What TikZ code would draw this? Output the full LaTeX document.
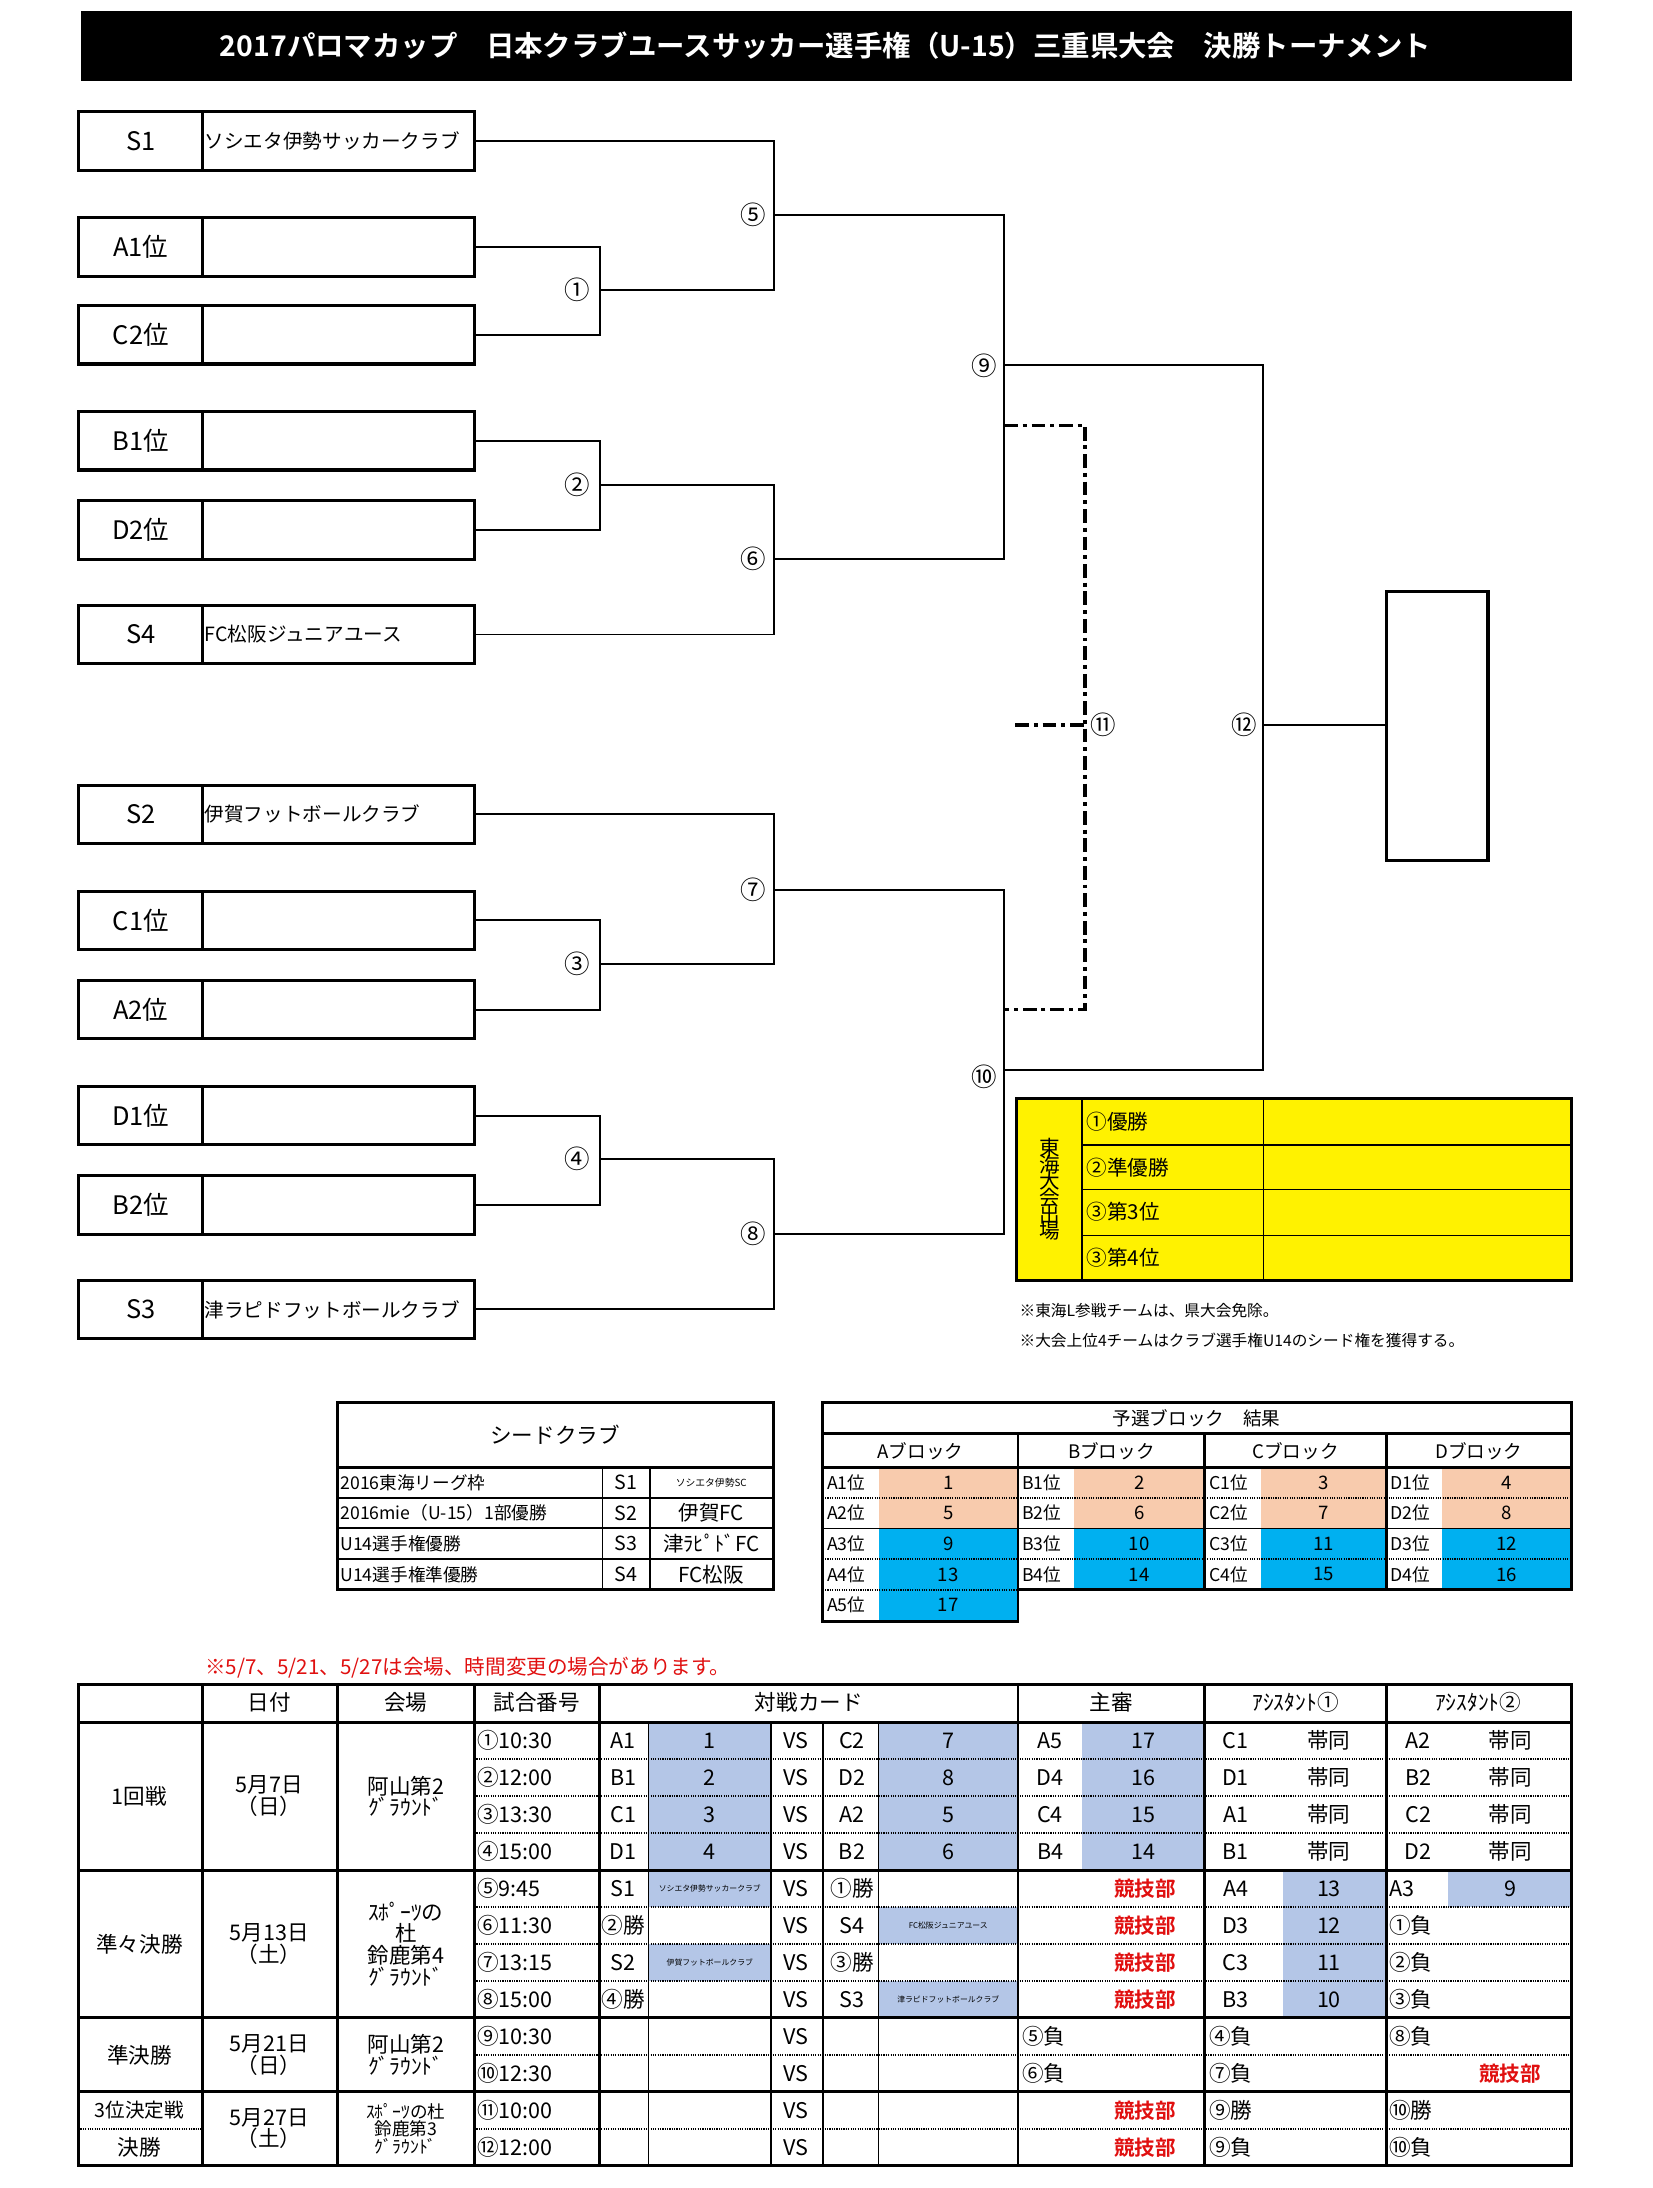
\documentclass[tikz,border=0pt]{standalone}
\usepackage{fontspec}
\setmainfont{Noto Sans CJK JP}
\newfontfamily\boldjp{Noto Sans CJK JP Bold}
\newcommand\FS[1]{\fontsize{#1}{#1}\selectfont}
\definecolor{lb}{HTML}{B4C6E7}
\definecolor{pe}{HTML}{F8CBAD}
\definecolor{cy}{HTML}{00B0F0}
\definecolor{rd}{HTML}{E01010}
\begin{document}
\begin{tikzpicture}[x=0.05cm,y=-0.05cm,
 box/.style={line width=3.2pt},
 br/.style={line width=2pt},
 dd/.style={line width=3.5pt,dash pattern=on 14pt off 5pt on 4pt off 5pt},
 num/.style={font=\FS{26}},
 lab/.style={font=\FS{26}},
 nm/.style={font=\FS{20},anchor=west,inner sep=1pt},
 tt/.style={font=\FS{22},inner sep=0pt},
 tw/.style={font=\FS{22},inner sep=0pt,anchor=west},
 sm/.style={font=\FS{8},inner sep=0pt},
 thk/.style={line width=3pt},
 thn/.style={line width=1.5pt},
 dot/.style={line width=2pt,dash pattern=on 1.2pt off 1.2pt}]
\useasboundingbox (0,0) rectangle (1185,1569);
% header
\fill (58,8) rectangle (1127,58);
\node[text=white,font=\boldjp\FS{29}] (title) at (592,33) {2017パロマカップ　日本クラブユースサッカー選手権（U-15）三重県大会　決勝トーナメント};
% teams
\foreach \n/\y/\l/\t in {s1/101/S1/ソシエタ伊勢サッカークラブ, a1/177/A1位/, c2/240/C2位/, b1/316/B1位/, d2/380/D2位/, s4/455/S4/FC松阪ジュニアユース, s2/584/S2/伊賀フットボールクラブ, c1/660/C1位/, a2/724/A2位/, d1/800/D1位/, b2/864/B2位/, s3/939/S3/津ラピドフットボールクラブ}{
 \draw[box] (56,\y-21) rectangle (340,\y+21);
 \draw[box] (145,\y-21) -- (145,\y+21);
 \node[lab] (\n l) at (101,\y) {\l};
 \node[nm] (\n t) at (146,\y) {\t};
 \coordinate (\n) at (340,\y);
}
\coordinate (j1) at (430,208); \coordinate (j2) at (430,348);
\coordinate (j3) at (430,691); \coordinate (j4) at (430,831);
\coordinate (j5) at (555,154); \coordinate (j6) at (555,401);
\coordinate (j7) at (555,638); \coordinate (j8) at (555,885);
\coordinate (j9) at (720,262); \coordinate (j10) at (720,767);
\coordinate (j12) at (906,520);
\draw[box] (994,424) rectangle (1067,617);
\node[minimum width=0,inner sep=0] (champ) at (994,520) {};
\draw[br] (a1) -| (j1) |- (c2);
\draw[br] (s1) -| (j5) |- (j1);
\draw[br] (b1) -| (j2) |- (d2);
\draw[br] (s4) -| (j6) |- (j2);
\draw[br] (j5) -| (j9) |- (j6);
\draw[br] (c1) -| (j3) |- (a2);
\draw[br] (s2) -| (j7) |- (j3);
\draw[br] (d1) -| (j4) |- (b2);
\draw[br] (s3) -| (j8) |- (j4);
\draw[br] (j7) -| (j10) |- (j8);
\draw[br] (j9) -| (j12) |- (j10);
\draw[br] (j12) -- (champ);
\coordinate (k1) at (720,305); \coordinate (k2) at (778,305);
\coordinate (k3) at (778,724); \coordinate (k4) at (720,724);
\coordinate (k5) at (728,520); \coordinate (k6) at (778,520);
\draw[dd] (k1) -- (k2) -- (k3) -- (k4);
\draw[dd] (k5) -- (k6);
\foreach \n/\x/\y/\t in {n1/414/208/①,n2/414/348/②,n3/414/691/③,n4/414/831/④,n5/540/154/⑤,n6/540/401/⑥,n7/540/638/⑦,n8/540/885/⑧,n9/706/262/⑨,n10/706/772/⑩,n11/791/520/⑪,n12/892/520/⑫}
 \node[num] (\n) at (\x,\y) {\t};
% yellow table
\fill[yellow] (729,788) rectangle (1127,918);
\foreach \y in {821,853,886} \draw[thn] (776,\y) -- (1127,\y);
\draw[thn] (776,788) -- (776,918); \draw[thn] (906,788) -- (906,918);
\draw[thk] (729,788) rectangle (1127,918);
\node[font=\FS{21},align=center,inner sep=0] (tokai) at (753,853) {東\\[-4pt]海\\[-4pt]大\\[-4pt]会\\[-4pt]出\\[-4pt]場};
\foreach \n/\y/\t in {y1/804/①優勝,y2/837/②準優勝,y3/869/③第3位,y4/902/③第4位}
 \node[tw,font=\FS{21}] (\n) at (779,\y) {\t};
\node[anchor=west,font=\FS{16},inner sep=0] (note1) at (731,940) {※東海L参戦チームは、県大会免除。};
\node[anchor=west,font=\FS{16},inner sep=0] (note2) at (731,961) {※大会上位4チームはクラブ選手権U14のシード権を獲得する。};
% seed table
\draw[thk] (242,1006) rectangle (555,1140);
\draw[thk] (242,1052) -- (555,1052);
\foreach \y in {1074,1096,1118} \draw[line width=2.2pt] (242,\y) -- (555,\y);
\draw[thn] (432,1052) -- (432,1140); \draw[thn] (466,1052) -- (466,1140);
\node[font=\FS{22}] (seed) at (398,1029) {シードクラブ};
\foreach \y/\a/\b in {1063/2016東海リーグ枠/S1,1085/2016mie（U-15）1部優勝/S2,1107/U14選手権優勝/S3,1129/U14選手権準優勝/S4}{
 \node[tw,font=\FS{18}] at (244,\y) {\a};
 \node[tt,font=\FS{20}] at (449,\y) {\b};}
\node[tt,font=\FS{10}] at (510,1063) {ソシエタ伊勢SC};
\node[tt,font=\FS{21}] at (510,1085) {伊賀FC};
\node[tt,font=\FS{21}] at (510,1107) {津ﾗﾋﾟﾄﾞFC};
\node[tt,font=\FS{21}] at (510,1129) {FC松阪};
% block table
\foreach \x/\w/\L/\a/\b/\c/\d in {590/730/A/1/5/9/13,730/864/B/2/6/10/14,864/994/C/3/7/11/15,994/1127/D/4/8/12/16}{
 \fill[pe] (\x+40,1052) rectangle (\w,1096);
 \fill[cy] (\x+40,1096) rectangle (\w,1140);
 \draw[dot] (\x,1074) -- (\w,1074); \draw[dot] (\x,1118) -- (\w,1118);
 \draw[line width=1.2pt] (\x,1096) -- (\w,1096);
 \node[tt,font=\FS{19}] at ({(\x+\w)/2},1041) {\L ブロック};
 \node[tw,font=\FS{18}] at (\x+3,1063) {\L 1位}; \node[tt,font=\FS{19}] at ({(\x+40+\w)/2},1063) {\a};
 \node[tw,font=\FS{18}] at (\x+3,1085) {\L 2位}; \node[tt,font=\FS{19}] at ({(\x+40+\w)/2},1085) {\b};
 \node[tw,font=\FS{18}] at (\x+3,1107) {\L 3位}; \node[tt,font=\FS{19}] at ({(\x+40+\w)/2},1107) {\c};
 \node[tw,font=\FS{18}] at (\x+3,1129) {\L 4位}; \node[tt,font=\FS{19}] at ({(\x+40+\w)/2},1129) {\d};
 \draw[thk] (\x,1028) -- (\x,1140);
}
\fill[cy] (630,1140) rectangle (730,1162);
\draw[dot] (590,1140) -- (730,1140);
\node[tw,font=\FS{18}] at (593,1151) {A5位}; \node[tt,font=\FS{19}] at (680,1151) {17};
\draw[thk] (590,1006) -- (1127,1006) -- (1127,1140) -- (730,1140) -- (730,1163) -- (590,1163) -- cycle;
\draw[thk] (590,1028) -- (1127,1028); \draw[thk] (590,1052) -- (1127,1052);
\node[tt,font=\FS{19}] (block) at (858,1017) {予選ブロック　結果};
% red note
\node[anchor=west,text=rd,font=\FS{21},inner sep=0] (rednote) at (147,1196) {※5/7、5/21、5/27は会場、時間変更の場合があります。};
% schedule table
\def\yc#1{{1235+26.5*(#1-0.5)}}
\foreach \r in {1,2,3,4}{
 \fill[lb] (465,1235+26.5*\r-26.5) rectangle (553,1235+26.5*\r);
 \fill[lb] (630,1235+26.5*\r-26.5) rectangle (730,1235+26.5*\r);
 \fill[lb] (776,1235+26.5*\r-26.5) rectangle (864,1235+26.5*\r);}
\foreach \r in {5,6,7,8} \fill[lb] (920,1235+26.5*\r-26.5) rectangle (994,1235+26.5*\r);
\fill[lb] (1038,1341) rectangle (1127,1367.5);
\fill[lb] (465,1341) rectangle (553,1367.5);
\fill[lb] (465,1394) rectangle (553,1420.5);
\fill[lb] (630,1367.5) rectangle (730,1394);
\fill[lb] (630,1420.5) rectangle (730,1447);
\foreach \y in {1261.5,1288,1314.5,1367.5,1394,1420.5,1473.5,1526.5} \draw[dot] (340,\y) -- (1127,\y);
\draw[dot] (56,1526.5) -- (145,1526.5);
\foreach \x in {465,553,590,630} \draw[thn] (\x,1235) -- (\x,1553);
\foreach \x in {145,242,340,430,730,864,994} \draw[thk] (\x,1208) -- (\x,1553);
\foreach \y in {1235,1341,1447,1500} \draw[thk] (56,\y) -- (1127,\y);
\draw[thk] (56,1208) rectangle (1127,1553);
% header texts
\foreach \x/\t in {193/日付,291/会場,385/試合番号,580/対戦カード,797/主審,929/ｱｼｽﾀﾝﾄ①,1060/ｱｼｽﾀﾝﾄ②}
 \node[tt] at (\x,1221) {\t};
% group texts
\node[tt] at (100,1288) {1回戦};
\node[tt,align=center] at (193,1288) {5月7日\\（日）};
\node[tt,align=center] at (291,1288) {阿山第2\\ｸﾞﾗｳﾝﾄﾞ};
\node[tt] at (100,1394) {準々決勝};
\node[tt,align=center] at (193,1394) {5月13日\\（土）};
\node[tt,align=center] at (291,1394) {ｽﾎﾟｰﾂの\\杜\\鈴鹿第4\\ｸﾞﾗｳﾝﾄﾞ};
\node[tt] at (100,1473.5) {準決勝};
\node[tt,align=center] at (193,1473.5) {5月21日\\（日）};
\node[tt,align=center] at (291,1473.5) {阿山第2\\ｸﾞﾗｳﾝﾄﾞ};
\node[tt,font=\FS{20}] at (100,1513) {3位決定戦};
\node[tt] at (100,1540) {決勝};
\node[tt,align=center] at (193,1526.5) {5月27日\\（土）};
\node[tt,align=center,font=\FS{18}] at (291,1526.5) {ｽﾎﾟｰﾂの杜\\鈴鹿第3\\ｸﾞﾗｳﾝﾄﾞ};
% rows
\foreach \r/\m in {1/①10:30,2/②12:00,3/③13:30,4/④15:00,5/⑤9:45,6/⑥11:30,7/⑦13:15,8/⑧15:00,9/⑨10:30,10/⑩12:30,11/⑪10:00,12/⑫12:00}{
 \node[tw] at (342,\yc{\r}) {\m};
 \node[tt] at (571,\yc{\r}) {VS};}
\foreach \r/\a/\b/\c/\d/\e/\f/\g/\h in {1/A1/1/C2/7/A5/17/C1/A2,2/B1/2/D2/8/D4/16/D1/B2,3/C1/3/A2/5/C4/15/A1/C2,4/D1/4/B2/6/B4/14/B1/D2}{
 \node[tt] at (447,\yc{\r}) {\a}; \node[tt] at (509,\yc{\r}) {\b};
 \node[tt] at (611,\yc{\r}) {\c}; \node[tt] at (680,\yc{\r}) {\d};
 \node[tt] at (753,\yc{\r}) {\e}; \node[tt] at (820,\yc{\r}) {\f};
 \node[tt] at (886,\yc{\r}) {\g}; \node[tt] at (953,\yc{\r}) {帯同};
 \node[tt] at (1017,\yc{\r}) {\h}; \node[tt] at (1083,\yc{\r}) {帯同};}
\node[tt] at (447,\yc{5}) {S1}; \node[sm] at (509,\yc{5}) {ソシエタ伊勢サッカークラブ};
\node[tt] at (611,\yc{5}) {①勝};
\node[tt] at (447,\yc{6}) {②勝}; \node[tt] at (611,\yc{6}) {S4};
\node[sm] at (680,\yc{6}) {FC松阪ジュニアユース};
\node[tt] at (447,\yc{7}) {S2}; \node[sm] at (509,\yc{7}) {伊賀フットボールクラブ};
\node[tt] at (611,\yc{7}) {③勝};
\node[tt] at (447,\yc{8}) {④勝}; \node[tt] at (611,\yc{8}) {S3};
\node[sm] at (680,\yc{8}) {津ラピドフットボールクラブ};
\foreach \r in {5,6,7,8,11,12} \node[tt,text=rd,font=\boldjp\FS{21}] at (821,\yc{\r}) {競技部};
\node[tt,text=rd,font=\boldjp\FS{21}] at (1083,\yc{10}) {競技部};
\foreach \r/\a/\b/\c in {5/A4/13/A3,6/D3/12/①負,7/C3/11/②負,8/B3/10/③負}{
 \node[tt] at (886,\yc{\r}) {\a}; \node[tt] at (953,\yc{\r}) {\b};
 \node[tw] at (996,\yc{\r}) {\c};}
\node[tt] at (1083,\yc{5}) {9};
\foreach \r/\a/\b/\c in {9/⑤負/④負/⑧負,10/⑥負/⑦負/,11//⑨勝/⑩勝,12//⑨負/⑩負}{
 \node[tw] at (733,\yc{\r}) {\a}; \node[tw] at (867,\yc{\r}) {\b}; \node[tw] at (996,\yc{\r}) {\c};}
\end{tikzpicture}
\end{document}
